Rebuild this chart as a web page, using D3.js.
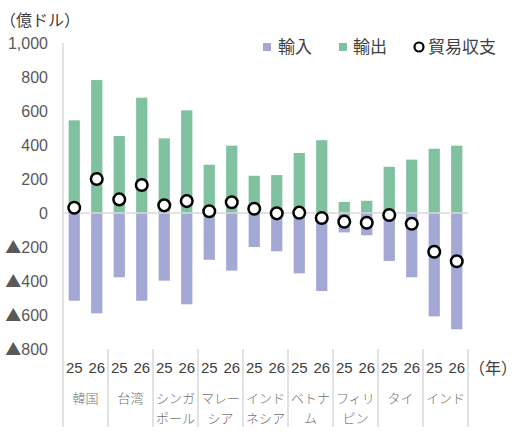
<!DOCTYPE html>
<html>
<head>
<meta charset="utf-8">
<script src="https://cdn.jsdelivr.net/npm/d3@7"></script>
<style>
  body { margin: 0; background: #fff; }
  text { font-family: "Liberation Sans", Arial, "Noto Sans CJK JP", sans-serif; }
  .jp { font-family: "Noto Sans CJK JP", sans-serif; }
</style>
</head>
<body>
<script>
// dati (unita: 億ドル)
var countries = ["韓国", "台湾", "シンガポール", "マレーシア", "インドネシア", "ベトナム", "フィリピン", "タイ", "インド"];
var countryLines = [["韓国"], ["台湾"], ["シンガ", "ポール"], ["マレー", "シア"], ["インド", "ネシア"], ["ベトナ", "ム"], ["フィリ", "ピン"], ["タイ"], ["インド"]];
var years = ["25", "26"];
// 輸出 per paese: [25, 26]
var exportsData = [[545, 782], [453, 678], [439, 604], [284, 396], [219, 223], [353, 428], [65, 72], [272, 314], [378, 396]];
// 輸入 (negativi)
var importsData = [[-516, -590], [-378, -516], [-398, -537], [-275, -339], [-200, -225], [-355, -459], [-114, -131], [-282, -378], [-608, -684]];
// 貿易収支
var balanceData = [[31, 200], [80, 165], [45, 70], [10, 63], [25, -2], [2, -29], [-51, -57], [-12, -63], [-228, -284]];
var yTicks = [1000, 800, 600, 400, 200, 0, -200, -400, -600, -800];

var width = 522, height = 435;
var purple = "#a4a8d4", green = "#80c1a0", gridGray = "#d9d9d9";

var svg = d3.select("body").append("svg")
  .attr("width", width)
  .attr("height", height);

// scale
var x = d3.scaleBand().domain(countries).range([63, 468]).padding(0);
var xYear = d3.scaleBand().domain(years).range([0, x.bandwidth()])
  .paddingInner(0.5).paddingOuter(0.25);
var y = d3.scaleLinear().domain([-800, 1000]).range([349, 43]);

// un record per barra
var rows = [];
countries.forEach(function (c, i) {
  years.forEach(function (yr, j) {
    rows.push({ country: c, year: yr, exp: exportsData[i][j], imp: importsData[i][j], bal: balanceData[i][j] });
  });
});

// asse y: etichette (il triangolo viene dal font giapponese)
var tickText = svg.append("g").selectAll("text")
  .data(yTicks)
  .enter().append("text")
  .attr("x", 48)
  .attr("y", d => y(d))
  .attr("dy", "0.35em")
  .attr("text-anchor", "end")
  .style("font-size", "16px")
  .style("fill", "#595959");
tickText.filter(d => d < 0).append("tspan")
  .attr("class", "jp")
  .text("▲");
tickText.append("tspan")
  .text(d => d3.format(",")(Math.abs(d)));

// barre 輸出
svg.append("g").selectAll("rect")
  .data(rows)
  .enter().append("rect")
  .attr("x", d => x(d.country) + xYear(d.year))
  .attr("width", xYear.bandwidth())
  .attr("y", d => y(d.exp))
  .attr("height", d => y(0) - y(d.exp))
  .style("fill", green);

// barre 輸入
svg.append("g").selectAll("rect")
  .data(rows)
  .enter().append("rect")
  .attr("x", d => x(d.country) + xYear(d.year))
  .attr("width", xYear.bandwidth())
  .attr("y", y(0))
  .attr("height", d => y(d.imp) - y(0))
  .style("fill", purple);

// linea dello zero e asse y
svg.append("line")
  .attr("x1", x.range()[0]).attr("x2", x.range()[1])
  .attr("y1", y(0)).attr("y2", y(0))
  .style("stroke", gridGray).style("stroke-width", 1.5);
svg.append("line")
  .attr("x1", x.range()[0]).attr("x2", x.range()[0])
  .attr("y1", y(1000)).attr("y2", y(-800))
  .style("stroke", gridGray).style("stroke-width", 1.5);

// separatori delle categorie
var seps = countries.map(c => x(c)).concat([x.range()[1]]);
svg.append("g").selectAll("line")
  .data(seps)
  .enter().append("line")
  .attr("x1", d => d).attr("x2", d => d)
  .attr("y1", y(-800)).attr("y2", 427)
  .style("stroke", gridGray).style("stroke-width", 1.5);

// 貿易収支 cerchi
svg.append("g").selectAll("circle")
  .data(rows)
  .enter().append("circle")
  .attr("cx", d => x(d.country) + xYear(d.year) + xYear.bandwidth() / 2)
  .attr("cy", d => y(d.bal))
  .attr("r", 5.8)
  .style("fill", "#fff")
  .style("stroke", "#000")
  .style("stroke-width", 2.5);

// etichette anni
svg.append("g").selectAll("text")
  .data(rows)
  .enter().append("text")
  .attr("x", d => x(d.country) + xYear(d.year) + xYear.bandwidth() / 2)
  .attr("y", 368)
  .attr("dy", "0.35em")
  .attr("text-anchor", "middle")
  .style("font-size", "15px")
  .style("fill", "#404040")
  .text(d => d.year);

// etichette paesi (su due righe)
var countryLabel = svg.append("g").selectAll("text")
  .data(countries)
  .enter().append("text")
  .attr("class", "jp")
  .attr("text-anchor", "middle")
  .style("font-size", "13px")
  .style("font-weight", 300)
  .style("fill", "#737373");
countryLabel.selectAll("tspan")
  .data((d, i) => countryLines[i].map(function (t) { return { c: d, t: t }; }))
  .enter().append("tspan")
  .attr("x", d => x(d.c) + x.bandwidth() / 2)
  .attr("y", (d, k) => 398 + k * 20)
  .attr("dy", "0.35em")
  .text(d => d.t);

// titoli
svg.append("text")
  .attr("class", "jp")
  .attr("x", 0).attr("y", 20)
  .attr("dy", "0.35em")
  .style("font-size", "16px")
  .style("fill", "#404040")
  .text("（億ドル）");
svg.append("text")
  .attr("class", "jp")
  .attr("x", 469).attr("y", 368)
  .attr("dy", "0.35em")
  .style("font-size", "16px")
  .style("fill", "#404040")
  .text("（年）");

// legenda
var legend = svg.append("g").attr("class", "legend");
legend.append("rect").attr("x", 263).attr("y", 43).attr("width", 8).attr("height", 8).style("fill", purple);
legend.append("text").attr("class", "jp").attr("x", 278).attr("y", 47).attr("dy", "0.35em")
  .style("font-size", "17px").style("fill", "#404040").text("輸入");
legend.append("rect").attr("x", 339).attr("y", 43).attr("width", 8).attr("height", 8).style("fill", green);
legend.append("text").attr("class", "jp").attr("x", 353).attr("y", 47).attr("dy", "0.35em")
  .style("font-size", "17px").style("fill", "#404040").text("輸出");
legend.append("circle").attr("cx", 419).attr("cy", 47).attr("r", 4.5)
  .style("fill", "#fff").style("stroke", "#000").style("stroke-width", 2.2);
legend.append("text").attr("class", "jp").attr("x", 428).attr("y", 47).attr("dy", "0.35em")
  .style("font-size", "17px").style("fill", "#404040").text("貿易収支");
</script>
</body>
</html>
